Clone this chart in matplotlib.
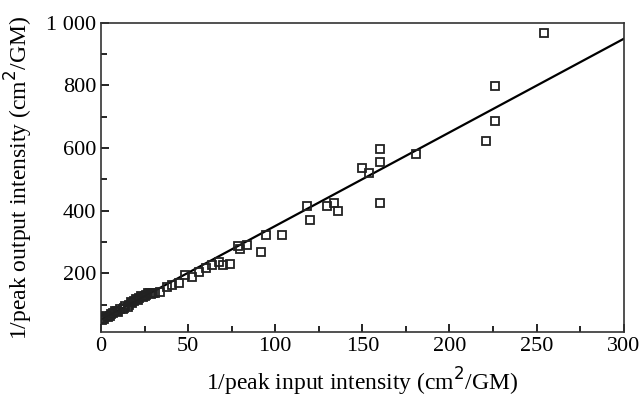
import matplotlib
matplotlib.use("Agg")
import matplotlib.pyplot as plt
import numpy as np
from matplotlib.ticker import MultipleLocator, FuncFormatter

# Data
x_pts = [0.5, 1.1, 2, 3, 4, 5, 6, 7, 8, 9, 10, 11, 12.6, 13, 14, 15.5, 16, 17, 18, 19,
         20, 21, 22, 23, 24, 25, 26, 27, 28, 29, 30, 31, 34, 38, 41, 45, 48, 52, 56, 60,
         64, 68, 70, 74, 78.5, 80, 84, 92, 95, 104, 118, 120, 130, 134, 136, 150, 154,
         160, 160, 160, 181, 221, 226, 226, 254]
y_pts = [50, 57, 55, 62, 60, 65, 70, 73, 78, 80, 76, 85, 86, 90, 96, 92, 100, 108, 105, 110,
         118, 114, 120, 126, 124, 128, 132, 136, 138, 134, 136, 138, 140, 156, 162, 168, 194,
         187, 203, 216, 225, 235, 225, 229, 286, 279, 289, 267, 321, 321, 416, 371, 416, 425,
         400, 537, 521, 597, 556, 425, 581, 622, 797, 686, 968]
fit_x = [0, 300]
fit_slope = 2.99
fit_intercept = 52

xticks = [0, 50, 100, 150, 200, 250, 300]
yticks = [200, 400, 600, 800, 1000]

plt.rcParams['font.family'] = ['Liberation Serif', 'DejaVu Serif']

fig = plt.figure(figsize=(6.43, 4.08), dpi=100)
ax = fig.add_axes([0.157, 0.186, 0.813, 0.758])

fx = np.array(fit_x, dtype=float)
ax.plot(fx, fit_intercept + fit_slope * fx, color='black', lw=1.6, zorder=2)
ax.plot(x_pts, y_pts, linestyle='none', marker='s', markersize=5.5,
        markerfacecolor='none', markeredgecolor='#222222', markeredgewidth=1.3, zorder=3)

ax.set_xlim(0, 300)
ax.set_ylim(12, 1000)
ax.set_xticks(xticks)
ax.set_yticks(yticks)
ax.xaxis.set_minor_locator(MultipleLocator(25))
ax.yaxis.set_minor_locator(MultipleLocator(100))
ax.yaxis.set_major_formatter(FuncFormatter(lambda v, p: f"{int(v):,}".replace(",", " ")))
ax.tick_params(which='both', direction='in', top=False, right=False, labelsize=16, width=1.2)
ax.tick_params(which='major', length=6)
ax.tick_params(which='minor', length=4)
for s in ax.spines.values():
    s.set_linewidth(1.2)
    s.set_color('#333333')

ax.set_xlabel("1/peak input intensity (cm$^{2}$/GM)", fontsize=17, labelpad=7)
ax.set_ylabel("1/peak output intensity (cm$^{2}$/GM)", fontsize=17, labelpad=8)

fig.savefig("out.png", dpi=100)
